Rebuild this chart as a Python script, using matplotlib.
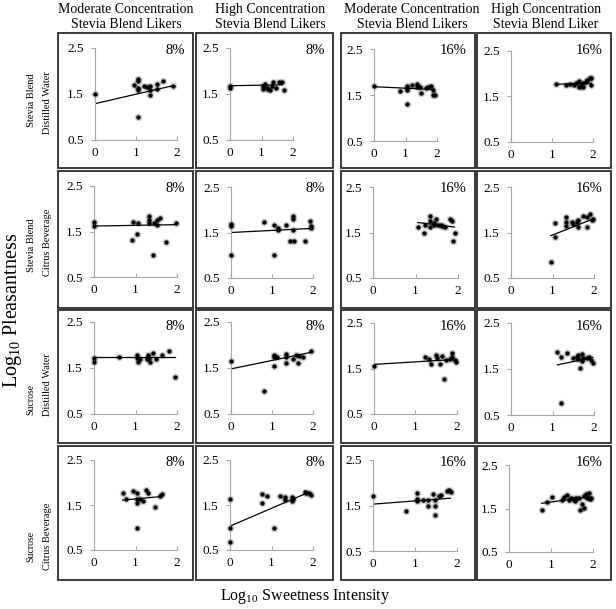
import matplotlib
matplotlib.use("Agg")
import matplotlib.pyplot as plt
from matplotlib.patches import Rectangle

plt.rcParams["font.family"] = ["Liberation Serif", "DejaVu Serif"]
plt.rcParams["mathtext.fontset"] = "custom"
plt.rcParams["mathtext.rm"] = "Liberation Serif"

# ── Data ──────────────────────────────────────────────────────────────────────
col_titles = ["Moderate Concentration\nStevia Blend Likers",
              "High Concentration\nStevia Blend Likers",
              "Moderate Concentration\nStevia Blend Likers",
              "High Concentration\nStevia Blend Liker"]
col_pct = ["8%", "8%", "16%", "16%"]
row_sweetener = ["Stevia Blend", "Stevia Blend", "Sucrose", "Sucrose"]
row_vehicle = ["Distilled Water", "Citrus Beverage", "Distilled Water", "Citrus Beverage"]

# row 1: stevia blend in distilled water
x_r1c1 = [0, 1.06, 1.06, 0.96, 1.06, 1.06, 1.06, 1.20, 1.27, 1.35, 1.35, 1.35, 1.51, 1.65, 1.51, 1.90]
y_r1c1 = [1.50, 1.83, 1.78, 1.70, 1.63, 1.58, 1.00, 1.68, 1.65, 1.68, 1.58, 1.47, 1.72, 1.78, 1.60, 1.68]
fit_r1c1 = [0, 1.29, 1.90, 1.68]

x_r1c2 = [0, 0, 1.05, 1.05, 1.16, 1.21, 1.32, 1.37, 1.47, 1.56, 1.66, 1.70, 1.26, 1.10]
y_r1c2 = [1.67, 1.63, 1.68, 1.61, 1.64, 1.61, 1.68, 1.75, 1.64, 1.75, 1.75, 1.59, 1.59, 1.72]
fit_r1c2 = [0, 1.68, 1.66, 1.70]

x_r1c3 = [0, 0.82, 1.06, 1.06, 1.06, 1.06, 1.22, 1.38, 1.38, 1.49, 1.46, 1.65, 1.81, 1.88, 1.88, 1.94, 1.71]
y_r1c3 = [1.70, 1.59, 1.70, 1.65, 1.60, 1.30, 1.72, 1.74, 1.68, 1.54, 1.67, 1.65, 1.70, 1.61, 1.50, 1.51, 1.67]
fit_r1c3 = [0, 1.68, 1.88, 1.62]

x_r1c4 = [1.09, 1.35, 1.45, 1.53, 1.59, 1.66, 1.69, 1.76, 1.82, 1.86, 1.92, 1.96, 1.96, 1.66, 1.76]
y_r1c4 = [1.77, 1.76, 1.77, 1.76, 1.79, 1.85, 1.74, 1.79, 1.81, 1.86, 1.90, 1.90, 1.76, 1.71, 1.71]
fit_r1c4 = [1.09, 1.77, 1.96, 1.79]

# row 2: stevia blend in citrus beverage
x_r2c1 = [0, 0, 0.91, 0.95, 1.03, 1.06, 1.33, 1.33, 1.33, 1.45, 1.51, 1.58, 1.53, 1.42, 1.73, 1.98]
y_r2c1 = [1.70, 1.63, 1.32, 1.70, 1.45, 1.68, 1.83, 1.76, 1.69, 1.69, 1.76, 1.79, 1.65, 0.98, 1.28, 1.68]
fit_r2c1 = [0, 1.62, 1.98, 1.65]

x_r2c2 = [0, 0, 0, 0.80, 1.06, 1.06, 1.14, 1.14, 1.35, 1.51, 1.51, 1.51, 1.43, 1.53, 1.80, 1.92, 1.95, 1.95]
y_r2c2 = [1.68, 1.65, 1.00, 1.72, 1.66, 1.00, 1.60, 1.56, 1.66, 1.86, 1.80, 1.55, 1.31, 1.31, 1.31, 1.75, 1.64, 1.60]
fit_r2c2 = [0, 1.50, 1.98, 1.59]

x_r2c3 = [1.05, 1.19, 1.23, 1.33, 1.33, 1.33, 1.43, 1.49, 1.52, 1.62, 1.70, 1.81, 1.85, 1.92, 1.88, 1.43, 1.59]
y_r2c3 = [1.61, 1.48, 1.66, 1.86, 1.75, 1.62, 1.70, 1.79, 1.66, 1.64, 1.62, 1.79, 1.75, 1.49, 1.31, 1.66, 1.67]
fit_r2c3 = [1.05, 1.72, 1.92, 1.62]

x_r2c4 = [0.96, 1.05, 1.05, 1.33, 1.33, 1.33, 1.46, 1.50, 1.58, 1.62, 1.62, 1.73, 1.82, 1.90, 1.94, 1.98, 1.82]
y_r2c4 = [0.85, 1.41, 1.70, 1.85, 1.73, 1.65, 1.73, 1.68, 1.74, 1.63, 1.78, 1.87, 1.61, 1.90, 1.78, 1.80, 1.85]
fit_r2c4 = [0.96, 1.43, 1.98, 1.80]

# row 3: sucrose in distilled water
x_r3c1 = [0, 0, 0.61, 1.03, 1.03, 1.05, 1.11, 1.31, 1.33, 1.35, 1.42, 1.50, 1.64, 1.80, 1.96, 1.27]
y_r3c1 = [1.72, 1.62, 1.73, 1.79, 1.72, 1.62, 1.70, 1.78, 1.72, 1.64, 1.82, 1.70, 1.78, 1.86, 1.31, 1.70]
fit_r3c1 = [0, 1.73, 1.94, 1.73]

x_r3c2 = [0, 0.80, 1.04, 1.06, 1.06, 1.11, 1.33, 1.35, 1.35, 1.51, 1.59, 1.63, 1.65, 1.76, 1.95]
y_r3c2 = [1.66, 1.01, 1.78, 1.73, 1.55, 1.73, 1.80, 1.75, 1.60, 1.70, 1.78, 1.60, 1.76, 1.73, 1.86]
fit_r3c2 = [0, 1.48, 1.95, 1.84]

x_r3c3 = [0, 1.22, 1.32, 1.38, 1.50, 1.52, 1.58, 1.64, 1.69, 1.74, 1.82, 1.88, 1.88, 1.95, 1.98]
y_r3c3 = [1.55, 1.75, 1.70, 1.60, 1.79, 1.74, 1.60, 1.77, 1.26, 1.68, 1.70, 1.84, 1.75, 1.68, 1.64]
fit_r3c3 = [0, 1.59, 1.96, 1.70]

x_r3c4 = [1.12, 1.20, 1.20, 1.34, 1.50, 1.58, 1.62, 1.66, 1.70, 1.70, 1.74, 1.82, 1.89, 1.92, 1.98, 1.62]
y_r3c4 = [1.86, 1.77, 0.77, 1.84, 1.73, 1.77, 1.81, 1.53, 1.82, 1.67, 1.74, 1.73, 1.77, 1.70, 1.62, 1.72]
fit_r3c4 = [1.12, 1.59, 1.97, 1.75]

# row 4: sucrose in citrus beverage
x_r4c1 = [0.69, 0.77, 0.94, 1.03, 1.03, 1.03, 1.03, 1.11, 1.18, 1.26, 1.31, 1.48, 1.58, 1.65]
y_r4c1 = [1.76, 1.63, 1.82, 1.76, 1.63, 1.55, 0.99, 1.63, 1.60, 1.83, 1.77, 1.46, 1.69, 1.74]
fit_r4c1 = [0.69, 1.61, 1.65, 1.69]

x_r4c2 = [0, 0, 0, 0.78, 0.78, 0.90, 1.05, 1.21, 1.33, 1.33, 1.49, 1.49, 1.51, 1.81, 1.90, 1.94, 1.84]
y_r4c2 = [1.63, 0.98, 0.67, 1.74, 1.54, 1.69, 0.98, 1.69, 1.67, 1.61, 1.67, 1.60, 1.63, 1.80, 1.76, 1.72, 1.77]
fit_r4c2 = [0, 1.03, 1.84, 1.76]

x_r4c3 = [0, 0.78, 1.04, 1.04, 1.04, 1.20, 1.32, 1.32, 1.42, 1.48, 1.48, 1.48, 1.56, 1.62, 1.76, 1.82, 1.86]
y_r4c3 = [1.70, 1.39, 1.77, 1.64, 1.59, 1.61, 1.61, 1.48, 1.75, 1.61, 1.48, 1.30, 1.70, 1.73, 1.82, 1.84, 1.79]
fit_r4c3 = [0, 1.53, 1.84, 1.66]

x_r4c4 = [0.78, 0.90, 1.02, 1.26, 1.31, 1.39, 1.44, 1.47, 1.54, 1.58, 1.60, 1.66, 1.68, 1.74, 1.79,
          1.84, 1.86, 1.90, 1.92, 1.79, 1.95]
y_r4c4 = [1.46, 1.64, 1.77, 1.69, 1.77, 1.81, 1.69, 1.75, 1.72, 1.68, 1.74, 1.75, 1.46, 1.60, 1.79,
          1.83, 1.75, 1.85, 1.72, 1.52, 1.74]
fit_r4c4 = [0.78, 1.62, 1.92, 1.77]

panels = [
    [(x_r1c1, y_r1c1, fit_r1c1), (x_r1c2, y_r1c2, fit_r1c2), (x_r1c3, y_r1c3, fit_r1c3), (x_r1c4, y_r1c4, fit_r1c4)],
    [(x_r2c1, y_r2c1, fit_r2c1), (x_r2c2, y_r2c2, fit_r2c2), (x_r2c3, y_r2c3, fit_r2c3), (x_r2c4, y_r2c4, fit_r2c4)],
    [(x_r3c1, y_r3c1, fit_r3c1), (x_r3c2, y_r3c2, fit_r3c2), (x_r3c3, y_r3c3, fit_r3c3), (x_r3c4, y_r3c4, fit_r3c4)],
    [(x_r4c1, y_r4c1, fit_r4c1), (x_r4c2, y_r4c2, fit_r4c2), (x_r4c3, y_r4c3, fit_r4c3), (x_r4c4, y_r4c4, fit_r4c4)],
]

# ── Layout (pixels) ───────────────────────────────────────────────────────────
W, H = 616, 609
box_cols = [(58, 193), (196, 333), (341, 475), (477, 611)]
box_rows = [(33, 168), (171, 308), (310, 443), (446, 580)]
# axes area per panel: x(0), x(2), y(2.5), y(0.5)
ax_px = [
    [(95, 177, 48, 140), (230, 293, 48, 140), (374, 437, 49, 141), (511, 593, 51, 142)],
    [(94, 177, 186, 277), (231, 313, 187, 278), (373, 458, 187, 278), (511, 594, 187, 278)],
    [(94, 177, 322, 414), (231, 313, 322, 414), (374, 457, 323, 414), (511, 594, 323, 415)],
    [(94, 177, 460, 550), (230, 313, 460, 550), (373, 457, 460, 551), (509, 593, 465, 552)],
]
col_title_x = [126, 270, 412, 546]
sweet_y = [100, 245, 399, 546]
vehicle_y = [103, 242, 385, 536]


def fx(px):
    return px / W


def fy(py):
    return 1 - py / H


fig = plt.figure(figsize=(W / 100, H / 100), dpi=100)

# panel frames
for r, (ry0, ry1) in enumerate(box_rows):
    for c, (cx0, cx1) in enumerate(box_cols):
        fig.patches.append(Rectangle((fx(cx0), fy(ry1)), fx(cx1 - cx0), (ry1 - ry0) / H,
                                     transform=fig.transFigure, fill=False,
                                     edgecolor="#2b2b2b", linewidth=1.3))
        fig.text(fx(cx1 - 8), fy(ry0 + 17), col_pct[c], ha="right", va="center",
                 fontsize=10.5)

for r in range(4):
    for c in range(4):
        x0, x2, yt, yb = ax_px[r][c]
        ax = fig.add_axes([fx(x0), fy(yb), fx(x2 - x0), (yb - yt) / H])
        xs, ys, fit = panels[r][c]
        ax.scatter(xs, ys, s=30, color="#000000", alpha=0.18, linewidths=0, clip_on=False)
        ax.scatter(xs, ys, s=10, color="#000000", linewidths=0, clip_on=False, zorder=3)
        ax.plot([fit[0], fit[2]], [fit[1], fit[3]], color="#000000", linewidth=0.9, zorder=2)
        ax.set_xlim(0, 2)
        ax.set_ylim(0.5, 2.5)
        ax.set_xticks([0, 1, 2])
        ax.set_yticks([0.5, 1.5, 2.5])
        ax.set_yticklabels(["0.5", "1.5", "2.5"])
        ax.patch.set_visible(False)
        for s in ("top", "right"):
            ax.spines[s].set_visible(False)
        for s in ("left", "bottom"):
            ax.spines[s].set_color("#a6a6a6")
            ax.spines[s].set_linewidth(0.8)
        ax.tick_params(axis="y", direction="out", length=3, width=0.8, color="#a6a6a6",
                       labelsize=9.5, pad=5)
        ax.tick_params(axis="x", direction="in", length=3, width=0.8, color="#a6a6a6",
                       labelsize=9.5, pad=5)

for c in range(4):
    fig.text(fx(col_title_x[c]), fy(17), col_titles[c], ha="center", va="center",
             fontsize=10, linespacing=1.15)

for r in range(4):
    fs = 7 if row_sweetener[r] == "Sucrose" else 7.5
    fig.text(fx(31), fy(sweet_y[r]), row_sweetener[r], rotation=90, ha="center",
             va="center", fontsize=fs)
    fig.text(fx(48), fy(vehicle_y[r]), row_vehicle[r], rotation=90, ha="center",
             va="center", fontsize=7.5)

fig.text(fx(13), fy(310), r"Log$_{\mathrm{10}}$ Pleasantness", rotation=90,
         ha="center", va="center", fontsize=14.5)
fig.text(fx(305), fy(597), r"Log$_{\mathrm{10}}$ Sweetness Intensity",
         ha="center", va="center", fontsize=11.5)

fig.savefig("out.png", dpi=100)
